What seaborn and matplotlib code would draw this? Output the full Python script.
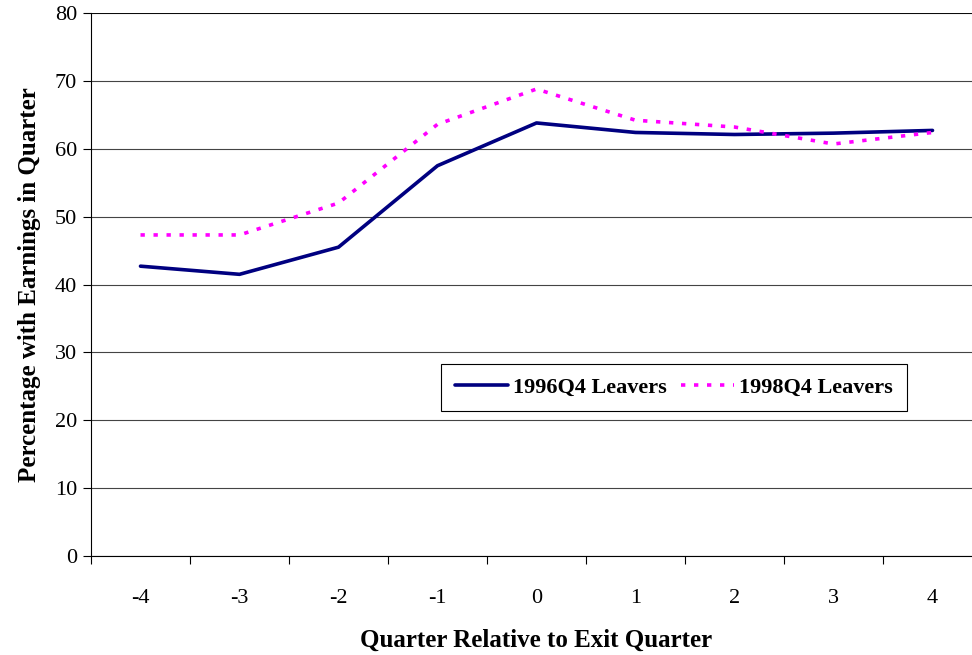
import numpy as np
import pandas as pd
import matplotlib
matplotlib.use("Agg")
import matplotlib.pyplot as plt
import seaborn as sns

# data
quarters = [-4, -3, -2, -1, 0, 1, 2, 3, 4]
leavers_1996 = [42.7, 41.5, 45.5, 57.5, 63.8, 62.4, 62.1, 62.3, 62.7]
leavers_1998 = [47.3, 47.3, 52.0, 63.6, 68.8, 64.2, 63.2, 60.7, 62.4]
series_names = ["1996Q4 Leavers", "1998Q4 Leavers"]

sns.set_style("white")
plt.rcParams['font.family'] = ['Liberation Serif', 'DejaVu Serif']
plt.rcParams['axes.unicode_minus'] = False
for k in ['text.color', 'axes.labelcolor', 'xtick.color', 'ytick.color']:
    plt.rcParams[k] = 'black'

df = pd.DataFrame({
    "quarter": quarters * 2,
    "pct": leavers_1996 + leavers_1998,
    "series": [series_names[0]] * len(quarters) + [series_names[1]] * len(quarters),
})

fig = plt.figure(figsize=(9.72, 6.55), dpi=100)
# plot area runs off the right edge like the original
ax = fig.add_axes([91 / 972, 1 - 556 / 655, 891 / 972, 543 / 655])

sns.lineplot(data=df, x="quarter", y="pct", hue="series", style="series",
             palette={series_names[0]: "#000080", series_names[1]: "#FF00FF"},
             dashes={series_names[0]: "", series_names[1]: (1.2, 2.4)},
             linewidth=2.6, ax=ax)

ax.set_xlim(-4.5, 4.5)
ax.set_ylim(0, 80)
ax.set_yticks(np.arange(0, 81, 10))
ax.set_xticks(quarters)
ax.set_xticks(np.arange(-4.5, 4.6, 1), minor=True)
ax.tick_params(axis="x", which="major", length=0, pad=24, labelsize=16)
ax.tick_params(axis="x", which="minor", length=6, width=0.8, direction="out", bottom=True)
ax.tick_params(axis="y", length=6, width=0.8, direction="out", left=True, labelsize=16, pad=4)
ax.yaxis.grid(True, color="#444444", linewidth=0.8)
ax.set_axisbelow(True)

for s in ["top", "right"]:
    ax.spines[s].set_visible(False)
ax.spines["left"].set_color("black")
ax.spines["bottom"].set_color("black")
ax.spines["left"].set_linewidth(0.8)
ax.spines["bottom"].set_linewidth(0.8)
ax.axhline(80, color="black", linewidth=1.2)

ax.set_xlabel("Quarter Relative to Exit Quarter", fontsize=18, fontweight="bold", labelpad=15)
ax.set_ylabel("Percentage with Earnings in Quarter", fontsize=18, fontweight="bold", labelpad=10)

leg = ax.legend(ncol=2, loc="upper left", bbox_to_anchor=(348 / 891, (556 - 362) / 543),
                frameon=True, fancybox=False, edgecolor="black", framealpha=1,
                prop={"weight": "bold", "size": 16}, handlelength=2.4,
                columnspacing=0.6, borderpad=0.6, handletextpad=0.25,
                borderaxespad=0.1)
leg.get_frame().set_linewidth(0.8)
leg.set_title(None)

fig.savefig("out.png", dpi=100)
